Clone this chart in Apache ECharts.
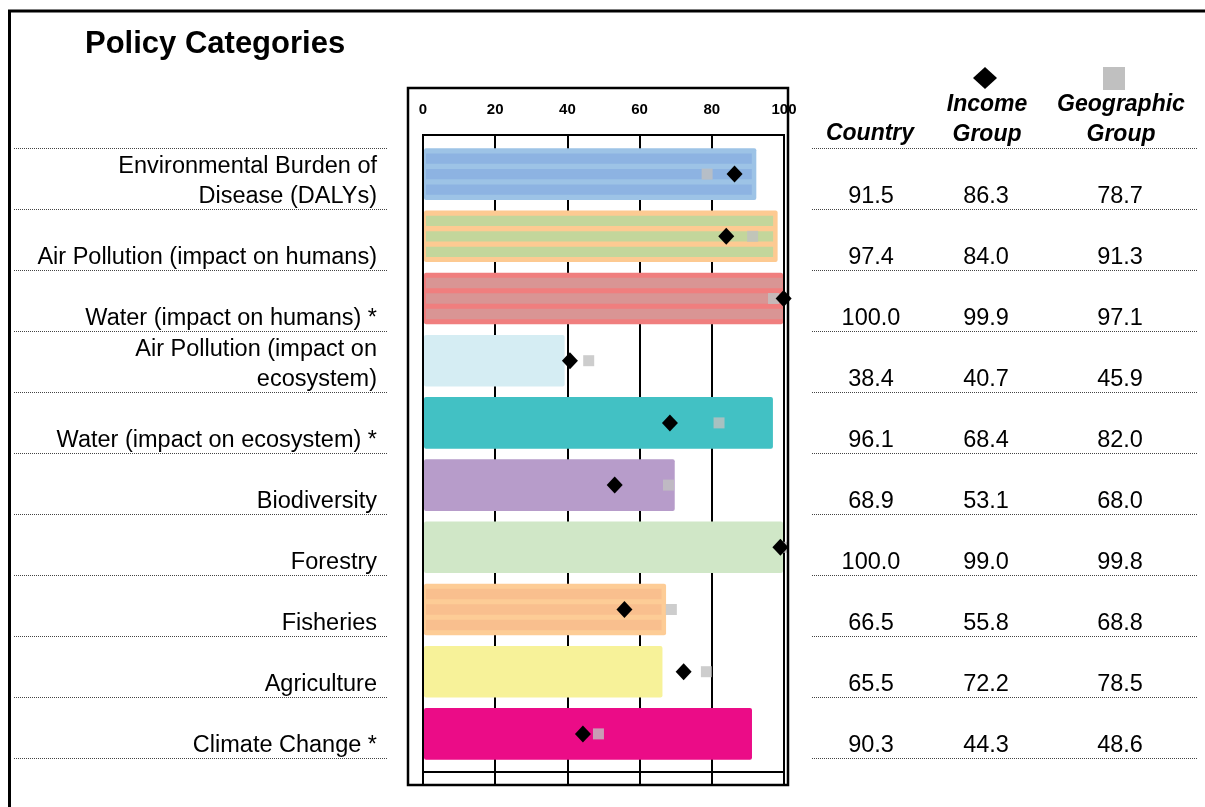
<!DOCTYPE html>
<html><head><meta charset="utf-8">
<script src="https://cdn.jsdelivr.net/npm/echarts@6/dist/echarts.min.js"></script>
<style>html,body{margin:0;padding:0;background:#fff}#c{width:1205px;height:807px}</style>
</head><body><div id="c"></div>
<script>
// ---- data ----
const categories = [
  'Environmental Burden of\nDisease (DALYs)',
  'Air Pollution (impact on humans)',
  'Water (impact on humans) *',
  'Air Pollution (impact on\necosystem)',
  'Water (impact on ecosystem) *',
  'Biodiversity',
  'Forestry',
  'Fisheries',
  'Agriculture',
  'Climate Change *'
];
const countryScores = [91.5, 97.4, 100.0, 38.4, 96.1, 68.9, 100.0, 66.5, 65.5, 90.3];
const incomeGroupScores = [86.3, 84.0, 99.9, 40.7, 68.4, 53.1, 99.0, 55.8, 72.2, 44.3];
const geographicGroupScores = [78.7, 91.3, 97.1, 45.9, 82.0, 68.0, 99.8, 68.8, 78.5, 48.6];
const columnTitles = ['Country', 'Income\nGroup', 'Geographic\nGroup'];
const titleText = 'Policy Categories';

// ---- styles / layout ----
const FONT = "'Liberation Sans', Arial, sans-serif";
const barStyles = [
  {fill:'#9DC3E6', stripe:'#8DB3E2'},
  {fill:'#FDCA92', stripe:'#C3D69B'},
  {fill:'#F07E7E', stripe:'#D99594'},
  {fill:'#D5EDF3'},
  {fill:'#42C1C4'},
  {fill:'#B79CCA'},
  {fill:'#D0E7C7'},
  {fill:'#FDCC96', stripe:'#F9BF8E'},
  {fill:'#F7F299'},
  {fill:'#EB0C87'}
];
const tableColumnX = [59, 174, 308];

const chart = echarts.init(document.getElementById('c'));

function renderBar(params, api) {
  const v = api.value(0), idx = api.value(1);
  const p0 = api.coord([0, idx]);
  const p1 = api.coord([v, idx]);
  const band = api.size([0, 1])[1];
  const h = band * 0.83;
  const cs = params.coordSys;
  const st = barStyles[idx];
  const x0 = p0[0] + 1;
  const xEnd = Math.min(p1[0] + 3, cs.x + cs.width - 1);
  const y0 = p1[1] - h / 2;
  const children = [{type:'rect', shape:{x:x0, y:y0, width:xEnd - x0, height:h, r:2}, style:{fill:st.fill}}];
  if (st.stripe) {
    const sEnd = Math.min(p1[0] - 1.5, cs.x + cs.width - 1);
    for (let k = 0; k < 3; k++) {
      children.push({type:'rect', shape:{x:x0 + 2, y:y0 + h * (0.1 + k * 0.3), width:sEnd - x0 - 2, height:h * 0.2}, style:{fill:st.stripe}});
    }
  }
  return {type:'group', children};
}

function renderLabel(params, api) {
  const idx = api.value(1);
  const p = api.coord([1, idx]);
  const band = api.size([0, 1])[1];
  return {type:'text', x:p[0] - 11, y:p[1] + band / 2 + 3,
    style:{text:categories[idx], fill:'#000', font:'23.5px ' + FONT, align:'right', verticalAlign:'bottom', lineHeight:30}};
}

function renderCell(params, api) {
  const p = api.coord([api.value(0), api.value(1)]);
  const band = api.size([0, 1])[1];
  return {type:'text', x:p[0], y:p[1] + band / 2 + 3,
    style:{text:api.value(2).toFixed(1), fill:'#000', font:'23.5px ' + FONT, align:'center', verticalAlign:'bottom', lineHeight:30}};
}

const tableData = [];
countryScores.forEach((v, i) => tableData.push([tableColumnX[0], i, v]));
incomeGroupScores.forEach((v, i) => tableData.push([tableColumnX[1], i, v]));
geographicGroupScores.forEach((v, i) => tableData.push([tableColumnX[2], i, v]));

const dotted = {show:true, lineStyle:{type:'dotted', color:'#444', width:1}};

chart.setOption({
  animation:false,
  backgroundColor:'#fff',
  grid:[
    {left:423, top:143, width:361, height:622},
    {left:423, top:135, width:361, height:637, show:true, borderColor:'#000', borderWidth:2, backgroundColor:'transparent', z:5},
    {left:14, top:148, width:374, height:610},
    {left:812, top:148, width:386, height:610}
  ],
  xAxis:[
    {gridIndex:0, type:'value', min:0, max:100, show:false},
    {gridIndex:1, type:'value', min:0, max:100, interval:20, position:'top',
      axisLine:{show:true, lineStyle:{color:'#000', width:2}},
      axisTick:{show:true, inside:true, length:12, lineStyle:{color:'#000', width:2}},
      axisLabel:{margin:18, color:'#000', fontWeight:'bold', fontSize:15, fontFamily:FONT},
      splitLine:{show:true, lineStyle:{color:'#000', width:2}}},
    {gridIndex:2, type:'value', min:0, max:1, show:false},
    {gridIndex:3, type:'value', min:0, max:386, show:false}
  ],
  yAxis:[
    {gridIndex:0, type:'category', data:categories, inverse:true, show:false},
    {gridIndex:1, type:'value', min:0, max:1, show:false},
    {gridIndex:2, type:'category', data:categories, inverse:true,
      axisLine:{show:false}, axisTick:{show:false}, axisLabel:{show:false}, splitLine:dotted},
    {gridIndex:3, type:'category', data:categories, inverse:true,
      axisLine:{show:false}, axisTick:{show:false}, axisLabel:{show:false}, splitLine:dotted}
  ],
  series:[
    {type:'custom', name:'Country', xAxisIndex:0, yAxisIndex:0, z:2, clip:false,
      data:countryScores.map((v, i) => [v, i]), encode:{x:0, y:1}, renderItem:renderBar},
    {type:'scatter', name:'Geographic Group', xAxisIndex:0, yAxisIndex:0, z:10, clip:false,
      symbol:'rect', symbolSize:11, itemStyle:{color:'#C0C0C0'},
      data:geographicGroupScores.map((v, i) => [v, i])},
    {type:'scatter', name:'Income Group', xAxisIndex:0, yAxisIndex:0, z:11, clip:false,
      symbol:'diamond', symbolSize:[16, 17], itemStyle:{color:'#000', opacity:1},
      data:incomeGroupScores.map((v, i) => [v, i])},
    {type:'custom', name:'labels', xAxisIndex:2, yAxisIndex:2, clip:false,
      data:categories.map((c, i) => [1, i]), encode:{x:0, y:1}, renderItem:renderLabel},
    {type:'custom', name:'table', xAxisIndex:3, yAxisIndex:3, clip:false,
      data:tableData, encode:{x:0, y:1}, renderItem:renderCell}
  ],
  graphic:[
    {type:'line', shape:{x1:8, y1:11, x2:1205, y2:11}, style:{stroke:'#000', lineWidth:3}, z:50},
    {type:'line', shape:{x1:9.5, y1:10, x2:9.5, y2:807}, style:{stroke:'#000', lineWidth:3}, z:50},
    {type:'rect', shape:{x:408, y:88, width:380, height:697}, style:{fill:'none', stroke:'#000', lineWidth:2.5}, z:50},
    {type:'text', x:85, y:44, style:{text:titleText, fill:'#000', font:'bold 31px ' + FONT, align:'left', verticalAlign:'middle'}, z:50},
    {type:'text', x:870, y:134, style:{text:columnTitles[0], fill:'#000', font:'italic bold 23px ' + FONT, align:'center', verticalAlign:'middle'}, z:50},
    {type:'text', x:987, y:119.5, style:{text:columnTitles[1], fill:'#000', font:'italic bold 23px ' + FONT, align:'center', verticalAlign:'middle', lineHeight:30}, z:50},
    {type:'text', x:1121, y:119.5, style:{text:columnTitles[2], fill:'#000', font:'italic bold 23px ' + FONT, align:'center', verticalAlign:'middle', lineHeight:30}, z:50},
    {type:'polygon', shape:{points:[[985,67],[997,78],[985,89],[973,78]]}, style:{fill:'#000'}, z:50},
    {type:'rect', shape:{x:1103, y:67, width:22, height:23}, style:{fill:'#C0C0C0'}, z:50}
  ]
});
</script>
</body></html>
